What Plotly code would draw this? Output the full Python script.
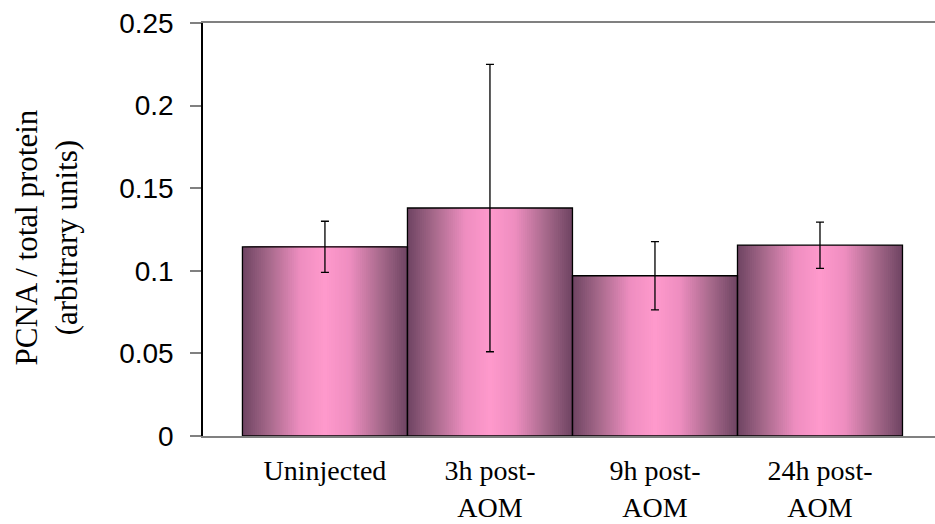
"""PCNA / total protein bar chart (Plotly)."""
import plotly.graph_objects as go

categories = ["Uninjected", "3h post-<br>AOM", "9h post-<br>AOM", "24h post-<br>AOM"]
pcna = [0.1145, 0.138, 0.097, 0.1155]
pcna_err = [0.0155, 0.087, 0.0206, 0.014]
y_title = "PCNA / total protein<br>(arbitrary units)"

# colour from bar centre (t=0) out to bar edge (t=1)
STOPS = [(0.0, (255, 153, 204)), (0.3, (238, 142, 192)),
         (0.67, (168, 106, 140)), (1.0, (110, 68, 98))]
N_SLICES = 40
SERIF = "Liberation Serif, Times New Roman, serif"


def _shade(t):
    for (t0, c0), (t1, c1) in zip(STOPS, STOPS[1:]):
        if t <= t1:
            f = (t - t0) / (t1 - t0)
            r, g, b = (round(a + (b_ - a) * f) for a, b_ in zip(c0, c1))
            return f"rgb({r},{g},{b})"
    return "rgb(%d,%d,%d)" % STOPS[-1][1]


fig = go.Figure()

# fake the horizontal gradient with nested overlaid bars, widest (darkest) first
for k in range(N_SLICES):
    w = 1.0 - k / N_SLICES
    fig.add_trace(go.Bar(
        x=categories, y=pcna, width=w,
        marker=dict(color=_shade(max(w - 0.5 / N_SLICES, 0)), line=dict(width=0)),
        hoverinfo="skip", showlegend=False,
    ))

# outline + error bars on top
fig.add_trace(go.Bar(
    x=categories, y=pcna, width=1.0,
    marker=dict(color="rgba(0,0,0,0)", line=dict(color="black", width=1.3)),
    error_y=dict(type="data", array=pcna_err, color="black", thickness=1.3, width=4),
    showlegend=False,
))

fig.update_layout(
    barmode="overlay",
    width=935, height=524,
    margin=dict(l=203, r=0, t=23, b=88),
    plot_bgcolor="white", paper_bgcolor="white",
    font=dict(family=SERIF, color="black"),
    xaxis=dict(
        range=[-0.739, 3.697], automargin=False,
        showline=True, linecolor="#808080", linewidth=1.5, mirror=True,
        showgrid=False, ticks="", ticklabelstandoff=9,
        tickfont=dict(family=SERIF, size=28, color="black"),
    ),
    yaxis=dict(
        range=[0, 0.25], dtick=0.05, automargin=False,
        showline=True, linecolor="black", linewidth=1.5,
        showgrid=False, zeroline=False,
        ticks="outside", ticklen=11, tickwidth=1.5, tickcolor="#808080",
        ticklabelstandoff=11,
        tickfont=dict(family="Liberation Sans, Arial, sans-serif", size=28, color="black"),
    ),
)

# axis title as a rotated annotation so it can sit where the original has it
fig.add_annotation(
    text=y_title, textangle=-90, showarrow=False,
    xref="paper", yref="paper", x=0, y=0.5, xanchor="center", yanchor="middle",
    xshift=-157, yshift=-8,
    font=dict(family=SERIF, size=31, color="black"),
)

# page body has an 8px default margin; drop it so the figure sits at (0, 0)
fig.write_html("out.html", config={"displayModeBar": False},
               post_script="document.body.style.margin='0';")
